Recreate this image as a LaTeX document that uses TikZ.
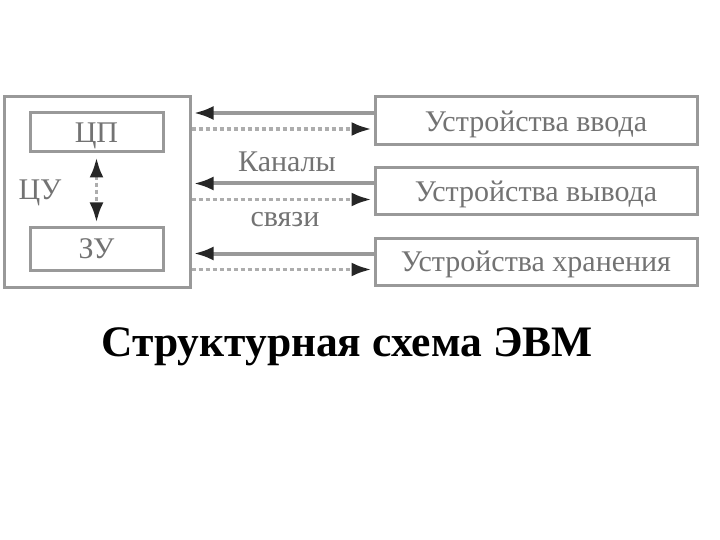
\documentclass[tikz,border=0pt]{standalone}
\usepackage{fontspec}
\setmainfont{Liberation Serif}
\usetikzlibrary{arrows.meta}
\definecolor{boxgray}{gray}{0.6}
\definecolor{txtgray}{gray}{0.45}
\tikzset{
  unitbox/.style={draw=boxgray, line width=3pt, fill=white, inner sep=0pt,
    text depth=0pt, text=txtgray, font=\fontsize{30}{34}\selectfont},
  solidarr/.style={draw=boxgray, line width=4pt, -{Latex[length=20pt,width=14pt,color=black!85]}},
  dasharr/.style={draw=boxgray!80, line width=3.5pt, dash pattern=on 4pt off 3pt,
    -{Latex[length=20pt,width=14pt,color=black!85]}},
  chanlabel/.style={text=txtgray, font=\fontsize{30}{34}\selectfont}
}
\begin{document}
\begin{tikzpicture}[x=1pt,y=-1pt]
\useasboundingbox[fill=white] (0,0) rectangle (720,540);
\node[unitbox, minimum width=186, minimum height=190] (cu) at (97,192) {};
\node[unitbox, minimum width=133, minimum height=39] (cpu) at (96.5,132.5) {ЦП};
\node[unitbox, minimum width=133, minimum height=42] (mem) at (96.5,249) {ЗУ};
\node[chanlabel, text depth=0pt] (culbl) at (40,190) {ЦУ};
\draw[dasharr, {Latex[length=20pt,width=14pt,color=black!85]}-{Latex[length=20pt,width=14pt,color=black!85]}]
  ([yshift=-4]cpu.south) -- ([yshift=4]mem.north);
\node[unitbox, minimum width=322, minimum height=48] (in) at (536,121) {Устройства ввода};
\node[unitbox, minimum width=322, minimum height=47] (out) at (536,191.5) {Устройства вывода};
\node[unitbox, minimum width=322, minimum height=47] (store) at (536,261.5) {Устройства хранения};
\foreach \dev in {in,out,store}{
  \draw[solidarr] ([yshift=8]\dev.west) -- ([xshift=2,yshift=8]\dev.west -| cu.east);
  \draw[dasharr] ([yshift=-8]\dev.west -| cu.east) -- ([xshift=-2,yshift=-8]\dev.west);
}
\node[chanlabel] (chan) at (287,162) {Каналы};
\node[chanlabel] (link) at (285,220) {связи};
\node[font=\bfseries\fontsize{43.5}{50}\selectfont] (title) at (347,347) {Структурная схема ЭВМ};
\end{tikzpicture}
\end{document}
